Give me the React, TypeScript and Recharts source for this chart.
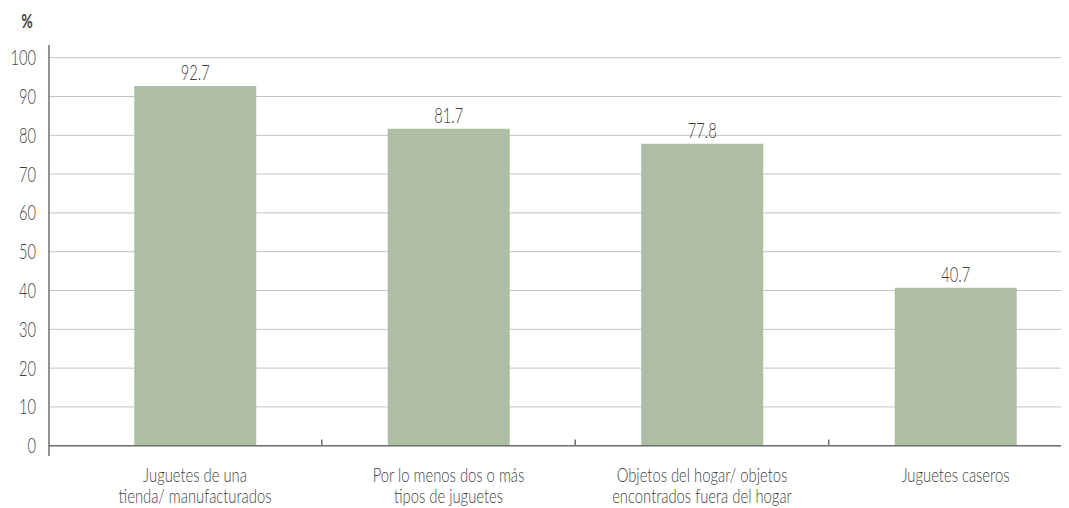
import React from "react";
import {
  BarChart,
  Bar,
  XAxis,
  YAxis,
  CartesianGrid,
  ReferenceLine,
  LabelList,
} from "recharts";

const categories: string[][] = [
  ["Juguetes de una", "tienda/ manufacturados"],
  ["Por lo menos dos o más", "tipos de juguetes"],
  ["Objetos del hogar/ objetos", "encontrados fuera del hogar"],
  ["Juguetes caseros"],
];
const values: number[] = [92.7, 81.7, 77.8, 40.7];
const yTicks: number[] = [0, 10, 20, 30, 40, 50, 60, 70, 80, 90, 100];
const categoryPositions: number[] = [0, 1, 2, 3];
const boundaries: number[] = [0.5, 1.5, 2.5];

const data = values.map((v, i) => ({ pos: categoryPositions[i], value: v }));

const FONT = 'Lato, "DejaVu Sans", sans-serif';
const TEXT = "#3f3f3f";

const SText = (props: any) => {
  const {
    x,
    y,
    anchor = "middle",
    weight = 300,
    dy = 0,
    lines,
    size = 19,
    sx = 0.78,
    lineHeight = 21,
  } = props;
  return (
    <g transform={`translate(${x},${y}) scale(${sx},1)`}>
      <text
        x={0}
        y={0}
        textAnchor={anchor}
        fill={TEXT}
        fontFamily={FONT}
        fontWeight={weight}
        fontSize={size}
      >
        {lines.map((l: string, i: number) => (
          <tspan key={i} x={0} dy={i === 0 ? dy : lineHeight}>
            {l}
          </tspan>
        ))}
      </text>
    </g>
  );
};

const XTick = (props: any) => {
  const { x, y, payload } = props;
  const lines = categories[payload.value] || [];
  return <SText x={x} y={y + 18} lines={lines} />;
};

const YTick = (props: any) => {
  const { x, y, payload } = props;
  return (
    <SText x={x} y={y} anchor="end" dy="0.36em" size={21} sx={0.7} lines={[String(payload.value)]} />
  );
};

const ValueLabel = (props: any) => {
  const { x, y, width, value } = props;
  return (
    <SText x={x + width / 2} y={y - 6} size={21} sx={0.7} lines={[Number(value).toFixed(1)]} />
  );
};

export default function App() {
  return (
    <div style={{ margin: "-8px 0 0 -8px", width: 1069, height: 508, position: "relative", background: "#fff" }}>
      <BarChart
        width={1069}
        height={508}
        data={data}
        margin={{ top: 45, right: 0, bottom: 0, left: 0 }}
      >
        <CartesianGrid
          horizontal
          vertical={false}
          horizontalValues={yTicks}
          stroke="#c4c4c4"
          strokeWidth={1}
        />
        <XAxis
          dataKey="pos"
          type="number"
          domain={[-0.576, 3.448]}
          ticks={categoryPositions}
          tickLine={false}
          axisLine={false}
          height={52}
          tick={<XTick />}
          interval={0}
          allowDataOverflow
        />
        <YAxis
          type="number"
          domain={[-2.65, 103.27]}
          ticks={yTicks}
          width={49}
          tickLine={false}
          tickSize={0}
          tickMargin={13}
          axisLine={{ stroke: "#6e6e6e", strokeWidth: 1.5 }}
          tick={<YTick />}
          allowDataOverflow
          interval={0}
        />
        <ReferenceLine y={0} stroke="#6e6e6e" strokeWidth={1.5} />
        {boundaries.map((b) => (
          <ReferenceLine
            key={b}
            segment={[
              { x: b, y: 0 },
              { x: b, y: 1.6 },
            ]}
            stroke="#6e6e6e"
            strokeWidth={1.5}
          />
        ))}
        <Bar dataKey="value" fill="#adbea4" barSize={122} isAnimationActive={false}>
          <LabelList dataKey="value" content={<ValueLabel />} />
        </Bar>
      </BarChart>
      <svg
        width={60}
        height={40}
        style={{ position: "absolute", left: 0, top: 0, overflow: "visible" }}
      >
        <SText x={27} y={28} weight={700} size={18} lines={["%"]} />
      </svg>
    </div>
  );
}
